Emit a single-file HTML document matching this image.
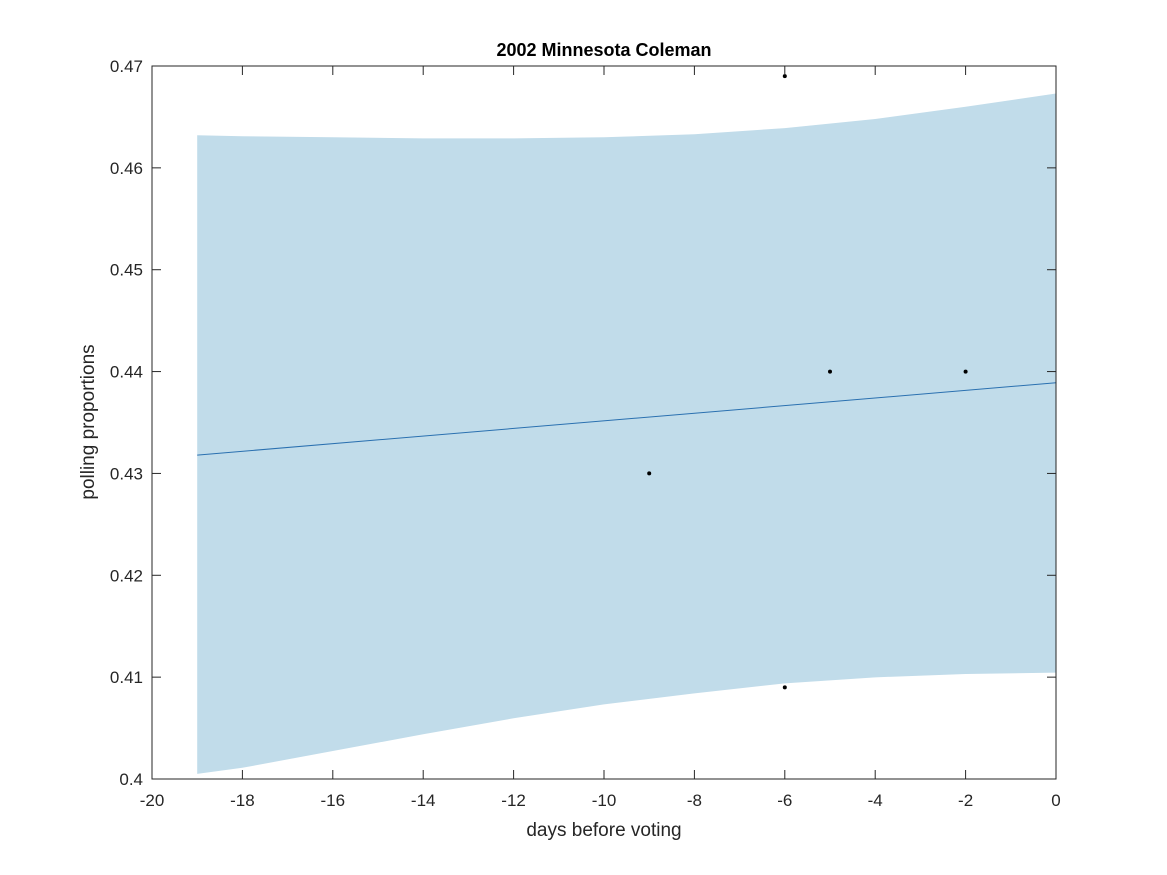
<!DOCTYPE html>
<html><head><meta charset="utf-8"><style>
html,body{margin:0;padding:0;background:#fff;}
svg{display:block;font-family:"Liberation Sans",Arial,sans-serif;}
</style></head><body>
<svg id="chart" width="1167" height="875">
<rect width="1167" height="875" fill="#fff"/>
<g id="band"></g>
<g id="line"></g>
<g id="pts"></g>
<g id="axes"></g>
<text x="604" y="56" text-anchor="middle" font-size="18" font-weight="bold" fill="#000">2002 Minnesota Coleman</text>
<text x="604" y="836" text-anchor="middle" font-size="19" fill="#262626">days before voting</text>
<text transform="translate(94,422) rotate(-90)" text-anchor="middle" font-size="19" fill="#262626">polling proportions</text>
</svg>
<script>
const xTicks=[-20,-18,-16,-14,-12,-10,-8,-6,-4,-2,0];
const yTicks=[0.4,0.41,0.42,0.43,0.44,0.45,0.46,0.47];
const pointX=[-9,-6,-6,-5,-2];
const pointY=[0.43,0.469,0.409,0.44,0.44];
const bandX=[-19,-18,-16,-14,-12,-10,-8,-6,-4,-2,0];
const bandUpper=[0.4632,0.4631,0.4630,0.4629,0.4629,0.4630,0.4633,0.4639,0.4648,0.4660,0.4673];
const bandLower=[0.4005,0.4011,0.40275,0.40439,0.40596,0.40733,0.40841,0.40939,0.40998,0.41031,0.41044];
const lineX=[-19,0];
const lineY=[0.4318,0.4389];
const L=152,R=1056,T=66,B=779;
const sx=v=>L+(v+20)/20*(R-L);
const sy=v=>B-(v-0.4)/0.07*(B-T);
const NS="http://www.w3.org/2000/svg";
function mk(t,a,p){const e=document.createElementNS(NS,t);for(const k in a)e.setAttribute(k,a[k]);p.appendChild(e);return e;}
let d="M"+bandX.map((x,i)=>sx(x)+","+sy(bandUpper[i])).join("L");
for(let i=bandX.length-1;i>=0;i--)d+="L"+sx(bandX[i])+","+sy(bandLower[i]);
const bp=mk("path",{d:d+"Z",fill:"#c1dcea"},document.getElementById("band"));


const ln=mk("line",{x1:sx(lineX[0]),y1:sy(lineY[0]),x2:sx(lineX[1]),y2:sy(lineY[1]),stroke:"#2a70b0","stroke-width":1},document.getElementById("line"));


pointX.forEach((x,i)=>{
const c=mk("circle",{cx:sx(x),cy:sy(pointY[i]),r:2,fill:"#000"},document.getElementById("pts"));


});
const ax=document.getElementById("axes");
const box=mk("rect",{x:L,y:T,width:R-L,height:B-T,fill:"none",stroke:"#262626","stroke-width":1},ax);


xTicks.forEach(v=>{
const x=sx(v);
mk("line",{x1:x,y1:B,x2:x,y2:B-9,stroke:"#262626"},ax);
mk("line",{x1:x,y1:T,x2:x,y2:T+9,stroke:"#262626"},ax);
const t=mk("text",{x:x,y:B+27,"text-anchor":"middle","font-size":"17",fill:"#262626"},ax);
t.textContent=v;


});
yTicks.forEach(v=>{
const y=sy(v);
mk("line",{x1:L,y1:y,x2:L+9,y2:y,stroke:"#262626"},ax);
mk("line",{x1:R,y1:y,x2:R-9,y2:y,stroke:"#262626"},ax);
const t=mk("text",{x:L-9,y:y+6,"text-anchor":"end","font-size":"17",fill:"#262626"},ax);
t.textContent=v===0.4?"0.4":v.toFixed(2);


});
</script>
</body></html>
